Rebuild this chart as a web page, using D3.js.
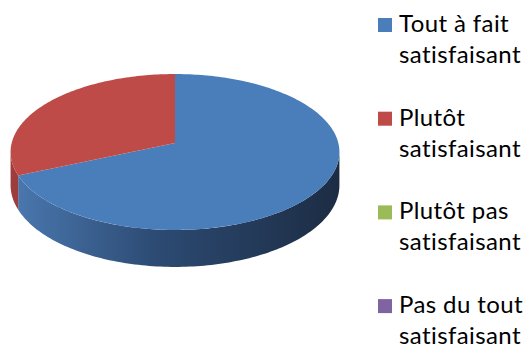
<!DOCTYPE html>
<html>
<head>
<meta charset="utf-8">
<script src="https://cdn.jsdelivr.net/npm/d3@7"></script>
<style>
  body { margin: 0; background: #fff; }
  svg { display: block; }
</style>
</head>
<body>
<div id="chart"></div>
<script>
var w = 525, h = 345;

// data
var categories = [
  ["Tout à fait", "satisfaisant"],
  ["Plutôt", "satisfaisant"],
  ["Plutôt pas", "satisfaisant"],
  ["Pas du tout", "satisfaisant"]
];
var values = [13, 6, 0, 0];
var colors = ["#4a7ebb", "#be4b48", "#9bbb59", "#8064a2"];
var sideColors = [["#4b79b1", "#2c4a72", "#1c2c43"], ["#9e3d3b", "#8a3432", "#6e2827"]];

var svg = d3.select("#chart")
  .append("svg")
  .attr("width", w)
  .attr("height", h);

// perspective projection of the disc
var cx = 175, cy = 143;
var D = 8.67, S = 1416, T = 667, H = 32.7;
function proj(a, z) {
  var u = Math.sin(a), v = -Math.cos(a), q = D - v;
  return [cx + S * u / q, cy + T * v / q + z * H * D / q];
}

var color = d3.scaleOrdinal().domain(d3.range(categories.length)).range(colors);
var pie = d3.pie().sort(null).value(function(d) { return d; });
var arcs = pie(values);

var line = d3.line();
function arcPoints(a0, a1, z) {
  var n = Math.max(2, Math.ceil((a1 - a0) / 0.02));
  return d3.range(n + 1).map(function(i) { return proj(a0 + (a1 - a0) * i / n, z); });
}

// gradients for side walls
var defs = svg.append("defs");
sideColors.forEach(function(c, i) {
  var g = defs.append("linearGradient")
    .attr("id", "side" + i)
    .attr("gradientUnits", "userSpaceOnUse")
    .attr("x1", 10).attr("x2", 340).attr("y1", 0).attr("y2", 0);
  g.append("stop").attr("offset", "0%").attr("stop-color", c[0]);
  g.append("stop").attr("offset", "45%").attr("stop-color", c[1]);
  g.append("stop").attr("offset", "100%").attr("stop-color", c[2]);
});

// visible front arc of the side
var vis0 = Math.acos(-1 / D), vis1 = 2 * Math.PI - Math.acos(-1 / D);

arcs.forEach(function(d, i) {
  if (d.value <= 0) return;
  var a0 = Math.max(d.startAngle, vis0), a1 = Math.min(d.endAngle, vis1);
  if (a1 <= a0) return;
  var pts = arcPoints(a0, a1, 0).concat(arcPoints(a0, a1, 1).reverse());
  svg.append("path")
    .attr("d", line(pts) + "Z")
    .attr("fill", "url(#side" + i + ")");
});

// top faces
svg.selectAll("path.top")
  .data(arcs.filter(function(d) { return d.value > 0; }))
  .enter()
  .append("path")
  .attr("class", "top")
  .attr("d", function(d) {
    return line([[cx, cy]].concat(arcPoints(d.startAngle, d.endAngle, 0))) + "Z";
  })
  .attr("fill", function(d) { return color(d.index); });

// legend
var legend = svg.selectAll("g.legend")
  .data(categories)
  .enter()
  .append("g")
  .attr("class", "legend")
  .attr("transform", function(d, i) { return "translate(378," + (32 + i * 93.7) + ")"; });

legend.append("rect")
  .attr("x", 0)
  .attr("y", -14)
  .attr("width", 14)
  .attr("height", 14)
  .attr("fill", function(d, i) { return color(i); });

var txt = legend.append("text")
  .attr("font-family", "Lato, 'Open Sans', sans-serif")
  .attr("font-size", "24px")
  .attr("letter-spacing", "0.4px")
  .attr("fill", "#000");
txt.append("tspan")
  .attr("x", 21).attr("y", 0)
  .text(function(d) { return d[0]; });
txt.append("tspan")
  .attr("x", 21).attr("y", 31)
  .text(function(d) { return d[1]; });
</script>
</body>
</html>
